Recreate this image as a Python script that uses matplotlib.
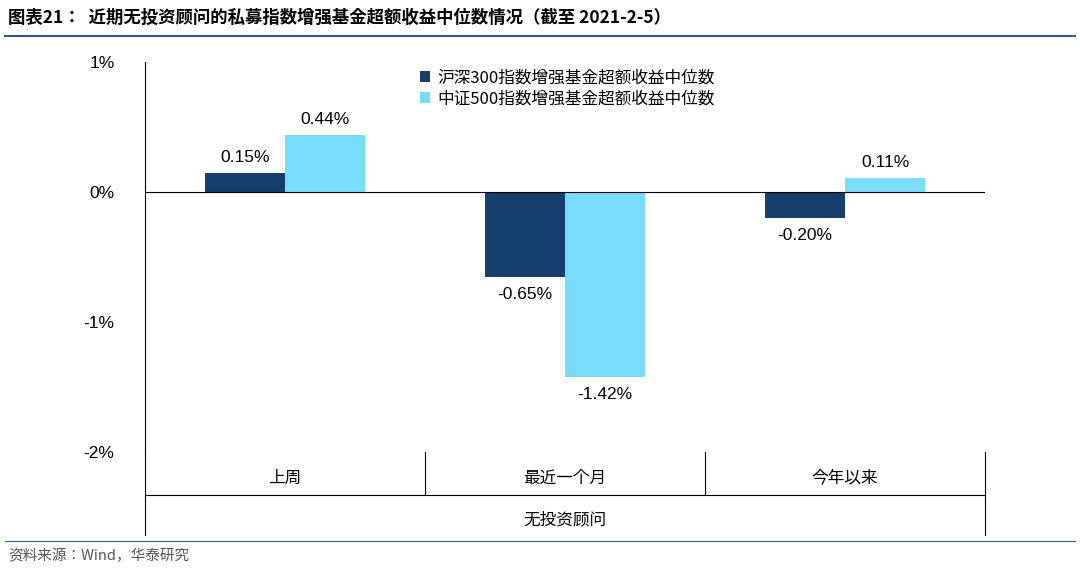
import matplotlib.pyplot as plt
from matplotlib.lines import Line2D

plt.rcParams['font.family'] = ['Noto Sans CJK SC', 'Noto Sans CJK JP', 'Noto Sans CJK TC', 'DejaVu Sans']

categories = ['上周', '最近一个月', '今年以来']
group_label = '无投资顾问'
series_names = ['沪深300指数增强基金超额收益中位数', '中证500指数增强基金超额收益中位数']
hs300 = [0.15, -0.65, -0.20]
zz500 = [0.44, -1.42, 0.11]
colors = ['#163F6E', '#79DCFD']

W, H = 1080, 571
fig = plt.figure(figsize=(W / 100, H / 100), dpi=100)
x0, x1, ytop, ybot = 145, 985, 62, 452
ax = fig.add_axes([x0 / W, 1 - ybot / H, (x1 - x0) / W, (ybot - ytop) / H])

xs = range(len(categories))
bw = 80 / 280
for vals, col, off, name in [(hs300, colors[0], -bw / 2, series_names[0]),
                             (zz500, colors[1], bw / 2, series_names[1])]:
    ax.bar([x + 0.5 + off for x in xs], vals, width=bw, color=col, label=name)
    for x, v in zip(xs, vals):
        ax.text(x + 0.5 + off, v + (0.06 if v >= 0 else -0.08), f'{v:.2f}%',
                ha='center', va='bottom' if v >= 0 else 'top', fontsize=12.5,
                family='Liberation Sans')

ax.set_xlim(0, 3)
ax.set_ylim(-2, 1)
ax.set_yticks([1, 0, -1, -2])
ax.set_yticklabels(['1%', '0%', '-1%', '-2%'], family='Liberation Sans', fontsize=12.5)
ax.set_xticks([])
for s in ['top', 'right', 'bottom']:
    ax.spines[s].set_visible(False)
ax.spines['left'].set_color('black')
ax.axhline(0, color='black', lw=0.8)
ax.tick_params(axis='y', length=0, pad=22)

# category axis below the plot
def fx(px):
    return px / W
def fy(py):
    return 1 - py / H
for px in [425, 705]:
    fig.add_artist(Line2D([fx(px)] * 2, [fy(452), fy(495)], color='black', lw=0.8))
for px in [145, 985]:
    fig.add_artist(Line2D([fx(px)] * 2, [fy(452), fy(535)], color='black', lw=0.8))
fig.add_artist(Line2D([fx(145), fx(985)], [fy(495)] * 2, color='black', lw=0.8))
for i, c in enumerate(categories):
    fig.text(fx(145 + 280 * i + 140), fy(478), c, ha='center', va='center', fontsize=12)
fig.text(fx(565), fy(520), group_label, ha='center', va='center', fontsize=12)

ax.legend(loc='upper left', bbox_to_anchor=(0.31, 1.02), frameon=False, fontsize=12,
          handlelength=0.6, handleheight=0.6, handletextpad=0.4, labelspacing=0.25)

fig.text(fx(8), fy(18), '图表21：  近期无投资顾问的私募指数增强基金超额收益中位数情况（截至 2021-2-5）',
         fontsize=12.5, fontweight='bold', va='center')
fig.add_artist(Line2D([fx(5), fx(1075)], [fy(36)] * 2, color='#2E5C9A', lw=1.5))
fig.add_artist(Line2D([fx(5), fx(1075)], [fy(541)] * 2, color='#2E5C9A', lw=0.8))
fig.text(fx(8), fy(556), '资料来源：Wind，华泰研究', fontsize=10.5, color='#555555', va='center')

fig.savefig('out.png', dpi=100)
